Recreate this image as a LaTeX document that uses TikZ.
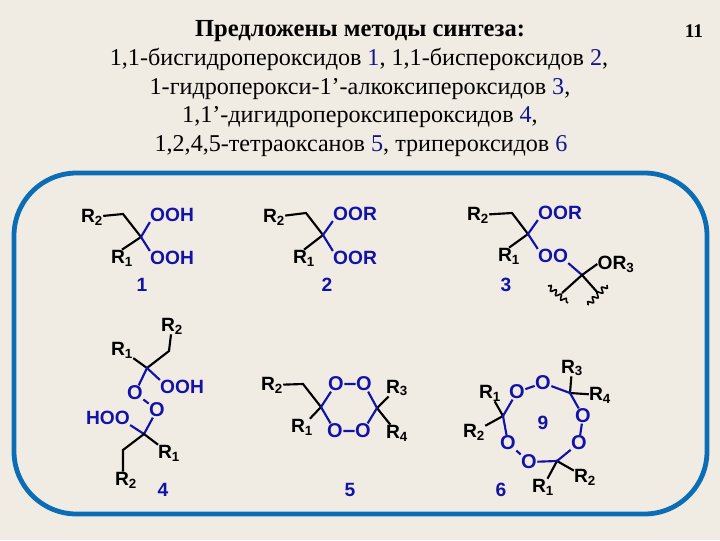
\documentclass[tikz,border=0pt]{standalone}
\usepackage{fontspec}
\setmainfont{Liberation Serif}
\newfontfamily\chemfont{Liberation Sans}[Scale=1]
\usetikzlibrary{decorations.pathmorphing}
\definecolor{pagebg}{HTML}{F0ECE3}
\definecolor{framecol}{HTML}{0B6DB6}
\definecolor{chemblue}{HTML}{1212A8}
\definecolor{numblue}{HTML}{14148C}
\newcommand{\Rsub}[1]{R\textsubscript{#1}}
\newcommand{\num}[1]{\textcolor{numblue}{#1}}
\tikzset{
  textline/.style={anchor=base,font=\fontsize{18.1}{20}\selectfont},
  atom/.style={inner sep=0pt,font=\chemfont\bfseries\fontsize{14.4}{16}\selectfont},
  blueatom/.style={atom,text=chemblue},
  oxygen/.style={blueatom,inner sep=0.2pt,font=\chemfont\bfseries\fontsize{15}{16}\selectfont},
  blackbond/.style={draw=black,line width=1.6pt},
  bluebond/.style={draw=chemblue,line width=1.6pt},
  wavy/.style={draw=black,line width=1.2pt,decorate,decoration={snake,amplitude=1.8pt,segment length=5pt}}
}
\begin{document}
\begin{tikzpicture}[x=0.75pt,y=-0.75pt]
\useasboundingbox (0,0) rectangle (720,540);
\fill[pagebg] (0,0) rectangle (720,540);
\node (title) [textline,font=\bfseries\fontsize{18.4}{20}\selectfont] at (360,36) {Предложены методы синтеза:};
\node (lineb) [textline] at (359,65) {1,1-бисгидропероксидов \num{1}, 1,1-биспероксидов \num{2},};
\node (linec) [textline] at (360,94) {1-гидроперокси-1’-алкоксипероксидов \num{3},};
\node (lined) [textline] at (360,122) {1,1’-дигидропероксипероксидов \num{4},};
\node (linee) [textline] at (361,151) {1,2,4,5-тетраоксанов \num{5}, трипероксидов \num{6}};
\node (pageno) [anchor=base,font=\bfseries\fontsize{14.5}{16}\selectfont] at (694,37) {11};
\draw[framecol,line width=3.6pt,rounded corners=47pt] (14,173) rectangle (707,514);

\coordinate (ca) at (141,237);
\coordinate (cha) at (123,214);
\node (ra) [atom] at (92,217) {\Rsub{2}};
\node (rb) [atom] at (122,258) {\Rsub{1}};
\node (oa) [blueatom] at (172,215) {OOH};
\node (ob) [blueatom] at (172,258) {OOH};
\node (numa) [blueatom] at (142,285) {1};
\draw[blackbond] (ra) -- (cha) -- (ca) -- (rb.north);
\draw[bluebond] (oa.south west) -- (ca) -- (ob.north west);

\coordinate (cb) at (323,235);
\coordinate (chb) at (306,213);
\node (rc) [atom] at (274,217) {\Rsub{2}};
\node (rd) [atom] at (304,258) {\Rsub{1}};
\node (oc) [blueatom] at (355,214) {OOR};
\node (od) [blueatom] at (355,258) {OOR};
\node (numb) [blueatom] at (327,285) {2};
\draw[blackbond] (rc) -- (chb) -- (cb) -- (rd.north);
\draw[bluebond] (oc.south west) -- (cb) -- (od.north west);

\coordinate (cc) at (528,234);
\coordinate (chc) at (512,213);
\coordinate (cd) at (582,275);
\node (re) [atom] at (478,215) {\Rsub{2}};
\node (rf) [atom] at (509,256) {\Rsub{1}};
\node (oe) [blueatom] at (560,213) {OOR};
\node (of) [blueatom] at (553,256) {OO};
\node (og) [atom] at (616,264) {OR\textsubscript{3}};
\node (numc) [blueatom] at (506,285) {3};
\coordinate (wla) at (548,286);
\coordinate (wlb) at (568,303);
\coordinate (wra) at (607,285);
\coordinate (wrb) at (588,305);
\coordinate (wlm) at (562,293);
\coordinate (wrm) at (598,293);
\draw[blackbond] (re) -- (chc) -- (cc) -- (rf.north);
\draw[bluebond] (oe.south west) -- (cc) -- (of.north west);
\draw[bluebond] (of.south east) -- (cd);
\draw[blackbond] (wlm) -- (cd) -- (wrm);
\draw[blackbond] (cd) -- (og.west);
\draw[wavy] (wla) -- (wlb);
\draw[wavy] (wra) -- (wrb);

\coordinate (ce) at (147,368);
\coordinate (che) at (169,351);
\coordinate (cf) at (144,434);
\coordinate (chf) at (123,450);
\node (rg) [atom] at (172,326) {\Rsub{2}};
\node (rh) [atom] at (122,350) {\Rsub{1}};
\node (oh) [blueatom] at (182,387) {OOH};
\node (oi) [oxygen] at (135,393) {O};
\node (oj) [oxygen] at (157,410) {O};
\node (ok) [blueatom] at (108,418) {HOO};
\node (ri) [atom] at (169,453) {\Rsub{1}};
\node (rj) [atom] at (126,480) {\Rsub{2}};
\node (numd) [blueatom] at (163,490) {4};
\draw[blackbond] (rg) -- (che) -- (ce) -- (rh);
\draw[bluebond] (oh.north west) -- (ce) -- (oi);
\draw[bluebond] (oi) -- (oj) -- (cf) -- (ok.south east);
\draw[blackbond] (ri) -- (cf) -- (chf) -- (chf |- rj.north);

\coordinate (cg) at (321,407);
\coordinate (chg) at (303,384);
\coordinate (ch) at (377,408);
\node (rk) [atom] at (272,385) {\Rsub{2}};
\node (rl) [atom] at (302,427) {\Rsub{1}};
\node (rm) [atom] at (397,388) {\Rsub{3}};
\node (rn) [atom] at (397,433) {\Rsub{4}};
\node (ol) [oxygen] at (336,384) {O};
\node (om) [oxygen] at (364,384) {O};
\node (on) [oxygen] at (335,431) {O};
\node (oo) [oxygen] at (363,431) {O};
\node (nume) [blueatom] at (350,490) {5};
\draw[blackbond] (rk) -- (chg) -- (cg) -- (rl);
\draw[blackbond] (rm) -- (ch) -- (rn);
\draw[bluebond] (cg) -- (ol) -- (om) -- (ch) -- (oo) -- (on) -- (cg);

\coordinate (ci) at (570,393);
\coordinate (cj) at (503,416);
\coordinate (ck) at (557,461);
\node (op) [oxygen] at (517,392) {O};
\node (oq) [oxygen] at (543,383) {O};
\node (or) [oxygen] at (583,416) {O};
\node (os) [oxygen] at (579,443) {O};
\node (ot) [oxygen] at (529,462) {O};
\node (ou) [oxygen] at (508,443) {O};
\node (ro) [atom] at (572,368) {\Rsub{3}};
\node (rp) [atom] at (600,395) {\Rsub{4}};
\node (rq) [atom] at (490,393) {\Rsub{1}};
\node (rr) [atom] at (474,432) {\Rsub{2}};
\node (rs) [atom] at (543,487) {\Rsub{1}};
\node (rt) [atom] at (585,477) {\Rsub{2}};
\node (ringno) [blueatom] at (543,423) {9};
\node (numf) [blueatom] at (501,490) {6};
\draw[blackbond] (ro) -- (ci) -- (rp);
\draw[blackbond] (rq) -- (cj) -- (rr);
\draw[blackbond] (rs) -- (ck) -- (rt);
\draw[bluebond] (cj) -- (op) -- (oq) -- (ci) -- (or) -- (os) -- (ck) -- (ot) -- (ou) -- (cj);
\end{tikzpicture}
\end{document}
